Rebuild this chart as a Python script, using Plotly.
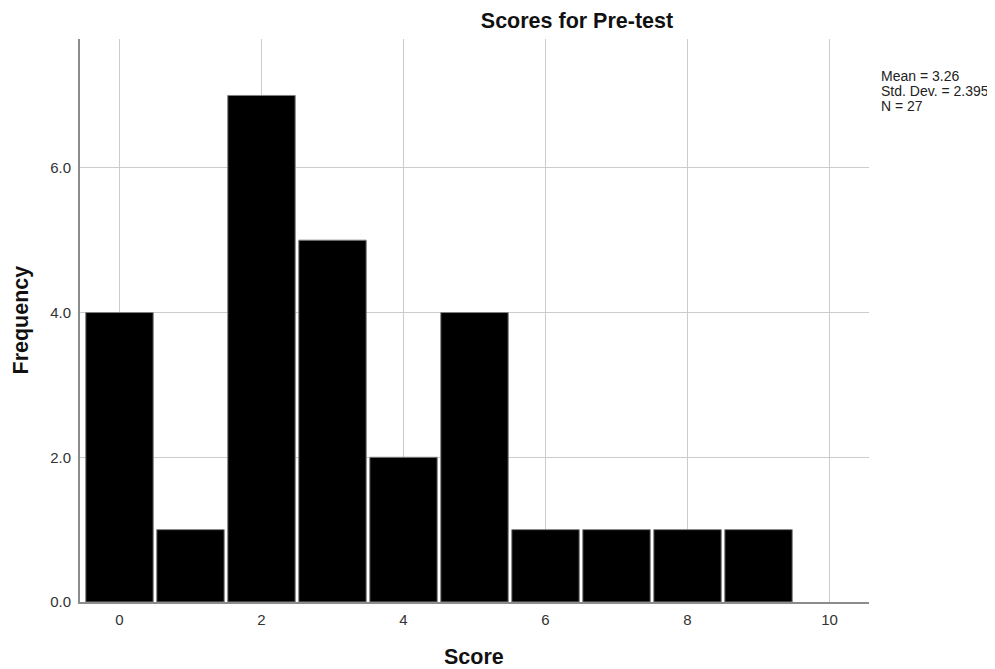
import plotly.graph_objects as go

scores = [0, 1, 2, 3, 4, 5, 6, 7, 8, 9]
frequency = [4, 1, 7, 5, 2, 4, 1, 1, 1, 1]
x_ticks = [0, 2, 4, 6, 8, 10]
y_ticks = [0, 2, 4, 6]
stats_lines = ["Mean = 3.26", "Std. Dev. = 2.395", "N = 27"]

fig = go.Figure()
fig.add_trace(go.Bar(
    x=scores, y=frequency,
    marker=dict(color="black", line=dict(color="#808080", width=1)),
    hoverinfo="x+y",
))

font_family = "Liberation Sans, Arial, sans-serif"
PLOT_W, PLOT_H = 789.0, 563.0

fig.update_layout(
    width=987, height=661,
    margin=dict(l=72, r=126, t=31, b=67),
    paper_bgcolor="white", plot_bgcolor="white",
    bargap=0.05,
    showlegend=False,
    font=dict(family=font_family, color="#333333", size=15),
    title=dict(text="<b>Scores for Pre-test</b>", x=0.5765, xanchor="center",
               y=0.981, yanchor="middle", font=dict(size=21.5, color="#111111")),
    xaxis=dict(
        range=[-0.556, 10.556], tickmode="array", tickvals=x_ticks,
        showgrid=True, gridcolor="#cccccc", gridwidth=1.3,
        showline=True, linecolor="#8c8c8c", linewidth=1.8,
        zeroline=False, ticks="outside", ticklen=3, tickcolor="rgba(0,0,0,0)",
        automargin=False,
        tickfont=dict(size=15, color="#333333"),
    ),
    yaxis=dict(
        range=[0, 7.78], tickmode="array", tickvals=y_ticks, tickformat=".1f",
        showgrid=True, gridcolor="#cccccc", gridwidth=1.3,
        showline=True, linecolor="#8c8c8c", linewidth=1.8,
        zeroline=False, ticks="outside", ticklen=4, tickcolor="rgba(0,0,0,0)",
        automargin=False,
        tickfont=dict(size=15, color="#333333"),
    ),
)

# axis titles
fig.add_annotation(
    text="<b>Score</b>", xref="paper", yref="paper",
    x=0.4994, y=-55 / PLOT_H, xanchor="center", yanchor="middle",
    showarrow=False, font=dict(size=21.5, color="#111111", family=font_family),
)
fig.add_annotation(
    text="<b>Frequency</b>", xref="paper", yref="paper",
    x=-60 / PLOT_W, y=0.5, xanchor="center", yanchor="middle", textangle=-90,
    showarrow=False, font=dict(size=21.5, color="#111111", family=font_family),
)

for i, line in enumerate(stats_lines):
    fig.add_annotation(
        text=line, xref="paper", yref="paper",
        x=799 / PLOT_W, y=(526 - 15 * i) / PLOT_H,
        xanchor="left", yanchor="middle", showarrow=False,
        font=dict(size=14, color="#222222", family=font_family), align="left",
    )

fig.write_html("out.html")
